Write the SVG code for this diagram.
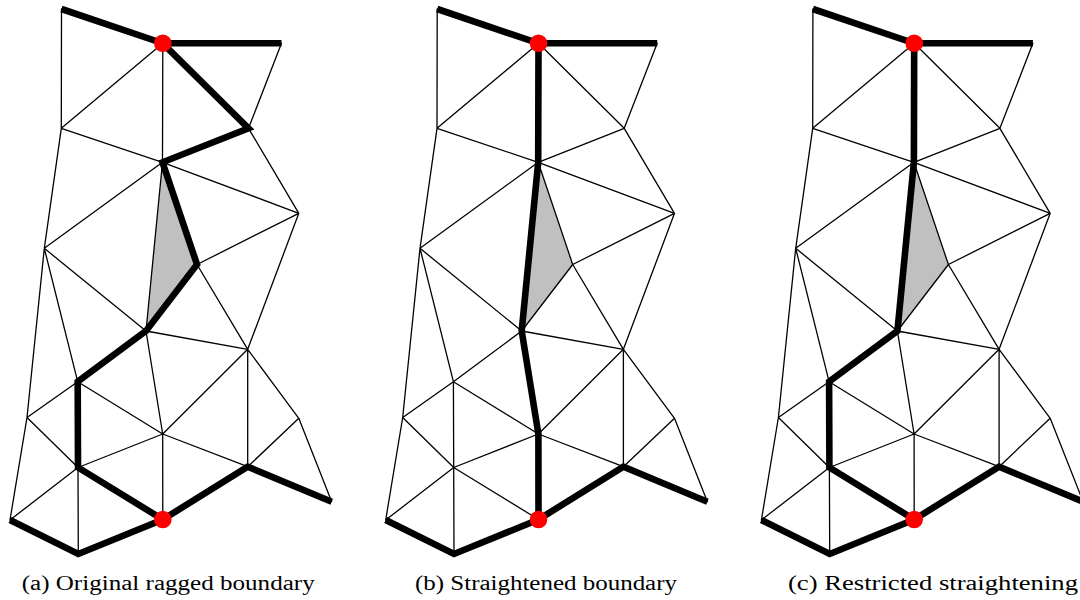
<svg xmlns="http://www.w3.org/2000/svg" xmlns:xlink="http://www.w3.org/1999/xlink" width="1080" height="600" viewBox="0 0 1080 600">
<style>
.thin{fill:none;stroke:#000;stroke-width:1.3;stroke-linecap:round}
.thick{fill:none;stroke:#000;stroke-width:6.6;stroke-linejoin:miter;stroke-miterlimit:10;stroke-linecap:butt}
.gray{fill:#c0c0c0;stroke:none}
.dot{fill:#ff0000}
.cap{font-family:"Liberation Serif","DejaVu Serif",serif;font-size:20px;fill:#000}
</style>
<defs>
<g id="mesh">
<polygon class="gray" points="162.5,162.3 197,264.5 146,331"/>
<path class="thin" d="M61.5,9L61.3,128.3 M162.8,43.3L61.3,128.3 M162.8,43.3L162.5,162.3 M162.8,43.3L248.5,128.3 M281.5,43.3L248.5,128.3 M61.3,128.3L162.5,162.3 M248.5,128.3L162.5,162.3 M248.5,128.3L298.8,213.3 M162.5,162.3L298.8,213.3 M61.3,128.3L44.3,248.3 M162.5,162.3L44.3,248.3 M162.5,162.3L197,264.5 M162.5,162.3L146,331 M197,264.5L298.8,213.3 M197,264.5L146,331 M197,264.5L247.7,349.3 M298.8,213.3L247.7,349.3 M44.3,248.3L27,417.5 M44.3,248.3L77.7,381.7 M44.3,248.3L146,331 M146,331L247.7,349.3 M146,331L77.7,381.7 M146,331L162.7,434 M77.7,381.7L27,417.5 M77.7,381.7L162.7,434 M77.7,381.7L78,467.5 M247.7,349.3L162.7,434 M247.7,349.3L247.7,466.7 M247.7,349.3L298.8,418.3 M27,417.5L78,467.5 M27,417.5L10,520 M162.7,434L78,467.5 M162.7,434L247.7,466.7 M162.7,434L162.8,519.5 M298.8,418.3L247.7,466.7 M298.8,418.3L331.7,501.7 M78,467.5L10,520 M78,467.5L162.8,519.5 M78,467.5L78.3,554"/>
<path id="common" class="thick" d="M61.5,9L162.8,43.3L281.5,43.3 M10,520L78.3,554L162.8,519.5L247.7,466.7L331.7,501.7"/>
</g>
</defs>
<g id="panel-a">
<use xlink:href="#mesh"/>
<polyline class="thick" points="162.8,43.3 248.5,128.3 162.5,162.3 197,264.5 146,331 77.7,381.7 78,467.5 162.8,519.5"/>
<circle class="dot" cx="162.8" cy="43.3" r="8.8"/>
<circle class="dot" cx="162.8" cy="519.5" r="8.8"/>
<text class="cap" x="21.7" y="590" textLength="293" lengthAdjust="spacingAndGlyphs">(a) Original ragged boundary</text>
</g>
<g id="panel-b" transform="translate(375.7,0)">
<use xlink:href="#mesh"/>
<polyline class="thick" points="162.8,43.3 162.5,162.3 146,331 162.7,434 162.8,519.5"/>
<circle class="dot" cx="162.8" cy="43.3" r="8.8"/>
<circle class="dot" cx="162.8" cy="519.5" r="8.8"/>
</g>
<text class="cap" x="415" y="590" textLength="262" lengthAdjust="spacingAndGlyphs">(b) Straightened boundary</text>
<g id="panel-c" transform="translate(751.4,0)">
<use xlink:href="#mesh"/>
<polyline class="thick" points="162.8,43.3 162.5,162.3 146,331 77.7,381.7 78,467.5 162.8,519.5"/>
<circle class="dot" cx="162.8" cy="43.3" r="8.8"/>
<circle class="dot" cx="162.8" cy="519.5" r="8.8"/>
</g>
<text class="cap" x="788" y="590" textLength="290" lengthAdjust="spacingAndGlyphs">(c) Restricted straightening</text>
</svg>
